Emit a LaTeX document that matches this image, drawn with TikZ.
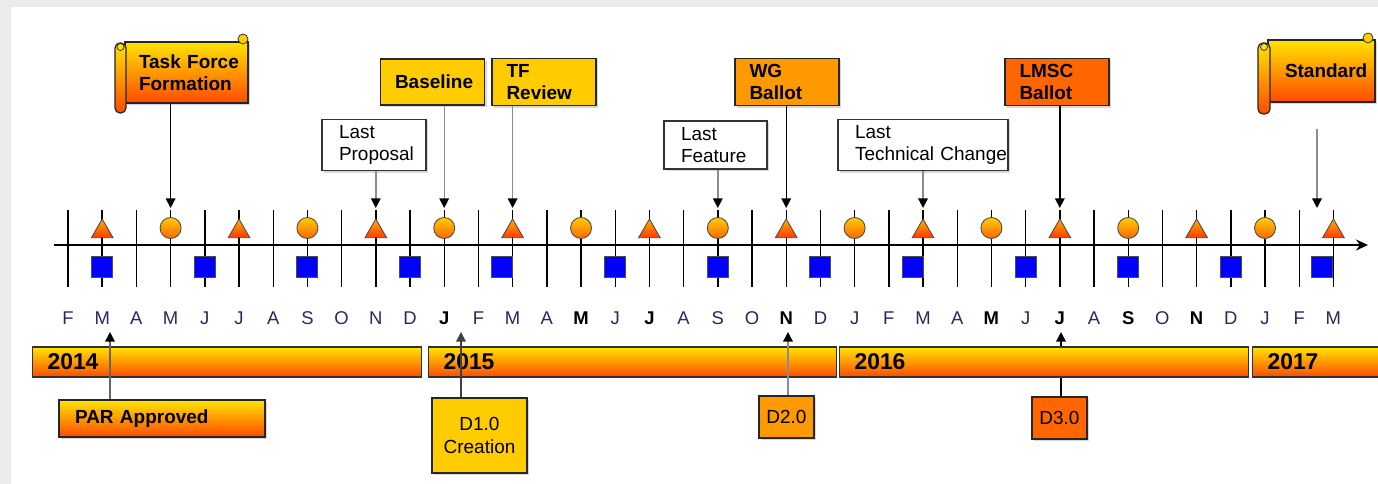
\documentclass[tikz,border=0pt]{standalone}
\usepackage{fontspec}
\setmainfont{Liberation Sans}
\usetikzlibrary{arrows.meta, positioning, shapes.geometric, shadows}
\definecolor{sunny}{HTML}{FFE400}
\definecolor{flame}{HTML}{FF4A00}
\definecolor{gold}{HTML}{FFCC00}
\definecolor{amber}{HTML}{FF9900}
\definecolor{rust}{HTML}{FF6600}
\definecolor{tritop}{HTML}{FFB000}
\definecolor{tribot}{HTML}{FF3800}
\definecolor{monthblue}{HTML}{262A5E}
\definecolor{bggray}{HTML}{EBEBEB}
\hyphenpenalty=10000

\begin{document}
\begin{tikzpicture}[
  mstone/.style={rectangle, draw=black!85, line width=0.7pt, minimum width=2.08cm,
                 minimum height=0.92cm, text width=1.5cm, inner xsep=0.29cm, align=left,
                 font=\fontsize{10.8}{12.6}\selectfont\bfseries,
                 drop shadow={shadow xshift=0.04cm, shadow yshift=-0.04cm, opacity=0.3}},
  note/.style={rectangle, draw=black!80, fill=white, line width=0.7pt, minimum height=0.96cm,
               inner xsep=0.34cm, align=left, font=\fontsize{10.8}{13}\selectfont,
               drop shadow={shadow xshift=0.04cm, shadow yshift=-0.04cm, opacity=0.3}},
  scroll/.style={rectangle, draw=black!85, line width=0.7pt, top color=sunny, bottom color=flame,
                 align=left, font=\fontsize{10.8}{12.6}\selectfont\bfseries,
                 drop shadow={shadow xshift=0.04cm, shadow yshift=-0.04cm, opacity=0.3}},
  roll/.style={draw=black!85, line width=0.7pt, top color=sunny, bottom color=flame,
               rounded corners=0.1cm},
  draftbox/.style={rectangle, draw=black!85, line width=0.7pt, align=center,
                   font=\fontsize{10.8}{12.6}\selectfont,
                   drop shadow={shadow xshift=0.04cm, shadow yshift=-0.04cm, opacity=0.3}},
  yearbar/.style={rectangle, anchor=west, draw=black!80, line width=0.7pt, top color=sunny,
                  bottom color=flame, minimum height=0.6cm, inner xsep=0.3cm, align=left,
                  font=\fontsize{13}{14}\selectfont\bfseries},
  tickline/.style={line width=0.8pt, black},
  axisline/.style={line width=1.6pt, -{Stealth[length=0.24cm, width=0.22cm]}},
  tri/.style={regular polygon, regular polygon sides=3, minimum size=0.5cm, inner sep=0pt,
              draw=black!70, line width=0.5pt, top color=tritop, bottom color=tribot},
  bead/.style={circle, minimum size=0.42cm, inner sep=0pt, draw=black!70, line width=0.5pt,
               top color=gold, bottom color=rust},
  sq/.style={rectangle, minimum size=0.42cm, inner sep=0pt, draw=black!70, line width=0.5pt, fill=blue},
  monthlbl/.style={font=\fontsize{10.5}{11}\selectfont, text=monthblue},
  bmonthlbl/.style={font=\fontsize{10.5}{11}\selectfont\bfseries, text=black},
  darrow/.style={-{Triangle[length=5.5pt, width=5.5pt]}, line width=0.8pt, black},
  garrow/.style={-{Triangle[length=5.5pt, width=5.5pt, color=black]}, line width=0.8pt, black!45}
]
  \useasboundingbox (0,0) rectangle (27.56,9.68);
  \fill[bggray] (0,0) rectangle (27.56,9.68);
  \fill[white] (0.22,0) rectangle (27.56,9.54);

  % month ticks
  \foreach \i in {0,...,37} {
    \draw[tickline] ({1.36+0.684*\i},3.94) -- ({1.36+0.684*\i},5.48);
    \coordinate (top\i) at ({1.36+0.684*\i},5.52);
  }
  \draw[axisline] (1.08,4.78) -- (27.36,4.78);

  % month letters
  \foreach \m/\s [count=\i from 0] in {F/monthlbl, M/monthlbl, A/monthlbl, M/monthlbl,
      J/monthlbl, J/monthlbl, A/monthlbl, S/monthlbl, O/monthlbl, N/monthlbl, D/monthlbl,
      J/bmonthlbl, F/monthlbl, M/monthlbl, A/monthlbl, M/bmonthlbl, J/monthlbl, J/bmonthlbl,
      A/monthlbl, S/monthlbl, O/monthlbl, N/bmonthlbl, D/monthlbl,
      J/monthlbl, F/monthlbl, M/monthlbl, A/monthlbl, M/bmonthlbl, J/monthlbl, J/bmonthlbl,
      A/monthlbl, S/bmonthlbl, O/monthlbl, N/bmonthlbl, D/monthlbl,
      J/monthlbl, F/monthlbl, M/monthlbl}
    \node[\s] (m\i) at ({1.36+0.684*\i},3.32) {\m};

  % markers
  \foreach \i in {1,5,...,37}
    \node[tri] (tr\i) at ({1.36+0.684*\i},5.05) {};
  \foreach \i in {3,7,...,35}
    \node[bead] (bd\i) at ({1.36+0.684*\i},5.12) {};
  \foreach \i/\dx in {1/0, 4/0, 7/0, 10/0, 13/-0.21, 16/0, 19/0, 22/0, 25/-0.2,
                      28/0, 31/0, 34/0, 37/-0.22}
    \node[sq] (sq\i) at ({1.36+0.684*\i+\dx},4.34) {};

  % scrolls
  \node[scroll, minimum width=2.46cm, minimum height=1.22cm, text width=1.9cm, inner xsep=0.28cm]
    (tff) at (3.73,8.23) {Task~Force\\Formation};
  \draw[roll] (2.30,8.82) rectangle (2.52,7.42);
  \draw[black!85, fill=sunny] (2.41,8.74) circle (0.07);
  \draw[black!85, fill=gold] (4.86,8.90) circle (0.1);

  \node[scroll, minimum width=2.14cm, minimum height=1.24cm, text width=1.46cm, inner xsep=0.34cm]
    (std) at (26.43,8.26) {Standard};
  \draw[roll] (25.16,8.82) rectangle (25.40,7.40);
  \draw[black!85, fill=sunny] (25.28,8.74) circle (0.07);
  \draw[black!85, fill=gold] (27.36,8.92) circle (0.1);

  % milestones
  \node[mstone, fill=gold] (bl) at (8.65,8.04) {Baseline};
  \node[mstone, fill=gold] (tfr) at (10.88,8.04) {TF\\Review};
  \node[mstone, fill=amber] (wgb) at (15.74,8.04) {WG\\Ballot};
  \node[mstone, fill=rust] (lmsc) at (21.14,8.04) {LMSC\\Ballot};

  \node[note, text width=1.40cm] (lp) at (7.48,6.78) {Last\\Proposal};
  \node[note, text width=1.38cm] (lf) at (14.31,6.78) {Last\\Feature};
  \node[note, text width=2.72cm] (ltc) at (18.46,6.78) {Last\\Technical~Change};

  \draw[darrow] (tff.south -| top3) -- (top3);
  \draw[garrow] (lp.south -| top9) -- (top9);
  \draw[garrow] (bl.south -| top11) -- (top11);
  \draw[garrow] (tfr.south -| top13) -- (top13);
  \draw[garrow] (lf.south -| top19) -- (top19);
  \draw[darrow] (wgb.south -| top21) -- (top21);
  \draw[garrow] (ltc.south -| top25) -- (top25);
  \draw[darrow] (lmsc.south -| top29) -- (top29);
  \coordinate (stdS) at (26.34,7.10);
  \draw[garrow] (stdS) -- (stdS |- top36);

  % drafts below the years
  \node[draftbox, top color=sunny, bottom color=flame, minimum width=4.12cm, minimum height=0.74cm,
        text width=3.48cm, inner xsep=0.32cm, align=left, font=\fontsize{10.8}{12.6}\selectfont\bfseries]
    (par) at (3.24,1.31) {PAR Approved};
  \node[draftbox, fill=gold, minimum width=1.9cm, minimum height=1.5cm] (d1) at (9.59,0.97) {D1.0\\Creation};
  \node[draftbox, fill=amber, minimum width=1.1cm, minimum height=0.84cm] (d2) at (15.73,1.34) {D2.0};
  \node[draftbox, fill=rust, minimum width=1.1cm, minimum height=0.84cm] (d3) at (21.19,1.32) {D3.0};

  \coordinate (parT) at (2.20,3.04);
  \coordinate (d1T) at (9.22,3.04);
  \coordinate (d2T) at (15.76,3.04);
  \coordinate (d3T) at (21.22,3.04);
  \draw[darrow] (d3.north -| d3T) -- (d3T);

  % years
  \node[yearbar, minimum width=7.78cm, text width=7.18cm] (y14) at (0.64,2.44) {2014};
  \node[yearbar, minimum width=8.16cm, text width=7.56cm] (y15) at (8.56,2.44) {2015};
  \node[yearbar, minimum width=8.18cm, text width=7.58cm] (y16) at (16.78,2.44) {2016};
  \node[yearbar, minimum width=2.9cm, text width=2.3cm] (y17) at (25.04,2.44) {2017};

  \draw[garrow, black!60] (par.north -| parT) -- (parT);
  \draw[darrow, black!75] (d1.north -| d1T) -- (d1T);
  \draw[garrow] (d2.north -| d2T) -- (d2T);
\end{tikzpicture}
\end{document}
